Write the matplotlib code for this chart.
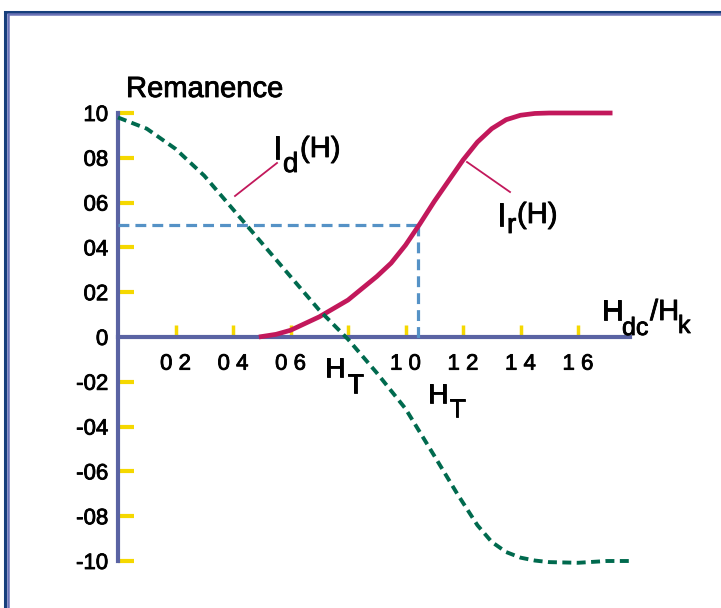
import matplotlib
matplotlib.use('Agg')
import matplotlib.pyplot as plt
import matplotlib.patheffects as pe
from matplotlib.lines import Line2D

plt.rcParams['font.family'] = ['Liberation Sans', 'DejaVu Sans']

# ---------------- data ----------------
h_d = [0.0, 0.1, 0.2, 0.3, 0.4, 0.5, 0.6, 0.7, 0.8, 0.9, 1.0, 1.1, 1.18,
       1.25, 1.3, 1.35, 1.4, 1.45, 1.5, 1.6, 1.7, 1.79]
id_vals = [0.98, 0.93, 0.84, 0.72, 0.57, 0.42, 0.27, 0.12, -0.01, -0.16,
           -0.32, -0.53, -0.70, -0.84, -0.915, -0.96, -0.985, -0.998,
           -1.005, -1.008, -1.0, -1.0]

h_r = [0.49, 0.55, 0.6, 0.7, 0.8, 0.9, 0.95, 1.0, 1.05, 1.1, 1.2, 1.25,
       1.3, 1.35, 1.4, 1.45, 1.5, 1.6, 1.72]
ir_vals = [0.0, 0.012, 0.03, 0.09, 0.165, 0.27, 0.33, 0.41, 0.505, 0.605,
           0.79, 0.87, 0.93, 0.97, 0.99, 0.998, 1.0, 1.0, 1.0]

level_half = 0.5
h_half = 1.045

y_ticks = [1.0, 0.8, 0.6, 0.4, 0.2, 0.0, -0.2, -0.4, -0.6, -0.8, -1.0]
y_tick_labels = ["10", "08", "06", "04", "02", "0", "-02", "-04", "-06",
                 "-08", "-10"]
x_ticks = [0.2, 0.4, 0.6, 0.8, 1.0, 1.2, 1.4, 1.6]
x_tick_labels = ["0 2", "0 4", "0 6", "", "1 0", "1 2", "1 4", "1 6"]

# ---------------- layout ----------------
W, H = 721, 608
X0, Y0 = 118, 337      # pixel position of the data origin
SX, SY = 287.5, 224    # pixels per data unit
thick = [pe.withStroke(linewidth=0.6, foreground='black')]


def fx(x):
    return x / W


def fy(y):
    return 1 - y / H


fig = plt.figure(figsize=(W / 100, H / 100), dpi=100)
fig.patch.set_facecolor('white')
ax = fig.add_axes([0, 0, 1, 1])
ax.set_xlim((0 - X0) / SX, (W - X0) / SX)
ax.set_ylim((Y0 - H) / SY, Y0 / SY)
ax.patch.set_visible(False)

for s in ['top', 'right']:
    ax.spines[s].set_visible(False)
ax.spines['left'].set_position(('data', 0))
ax.spines['bottom'].set_position(('data', 0))
ax.spines['left'].set_bounds(-1.0, 1.0)
ax.spines['bottom'].set_bounds(0, 1.78)
for s in ['left', 'bottom']:
    ax.spines[s].set_color('#5a63a3')
    ax.spines[s].set_linewidth(3)
    ax.spines[s].set_zorder(2.6)

ax.set_yticks(y_ticks, y_tick_labels)
ax.set_xticks(x_ticks, x_tick_labels)
ax.tick_params(axis='y', direction='in', length=11.5, width=3,
               color='#f5d800', pad=7, labelsize=16)
ax.tick_params(axis='x', direction='in', length=9, width=2.5,
               color='#f5d800', pad=12, labelsize=16)
for t, v in zip(ax.yaxis.get_major_ticks(), y_ticks):
    if v == 0:
        t.tick1line.set_visible(False)
for lab in ax.get_xticklabels() + ax.get_yticklabels():
    lab.set_path_effects(thick)

# guide lines
blue = '#5592c6'
ax.plot([0, h_half], [level_half, level_half], color=blue, lw=2.3,
        ls=(0, (3.4, 1.9)), zorder=3)
ax.plot([h_half, h_half], [level_half, -0.015], color=blue, lw=2.3,
        ls=(0, (3.4, 1.9)), zorder=3)

# curves
ax.plot(h_r, ir_vals, color='#c2185b', lw=3.4, solid_capstyle='butt',
        solid_joinstyle='round', zorder=4)
ax.plot(h_d, id_vals, color='#006a4e', lw=2.8, ls=(0, (2.3, 1.4)),
        zorder=5)

# ---------------- frame ----------------
fig.add_artist(Line2D([fx(5), fx(5), fx(W + 5)],
                      [fy(H + 5), fy(11.5), fy(11.5)],
                      color='#163f7c', lw=2.2, solid_joinstyle='miter'))
fig.add_artist(Line2D([fx(7.5), fx(7.5), fx(W + 5)],
                      [fy(H + 5), fy(14), fy(14)],
                      color='#6a72b6', lw=1.8, solid_joinstyle='miter'))


# ---------------- texts ----------------
def put(x, y, s, size):
    fig.text(fx(x), fy(y), s, fontsize=size, ha='left', va='baseline',
             color='black', path_effects=thick)


put(126, 97, "Remanence", 21)

put(325, 377, "H", 20)
put(347, 393, "T", 20)
put(428, 403, "H", 20)
put(449, 417, "T", 19)

put(602, 320, "H", 21)
put(622, 335, "dc", 18)
put(650, 320, "/H", 21)
put(678, 333, "k", 18)

put(273, 159, "I", 24)
put(283, 172, "d", 20)
put(300, 157, "(H)", 21)

put(497, 226, "I", 24)
put(507, 233, "r", 20)
put(517, 223, "(H)", 21)

# pointer lines
fig.add_artist(Line2D([fx(235), fx(277)], [fy(196), fy(163)],
                      color='#c2185b', lw=1.3))
fig.add_artist(Line2D([fx(467), fx(510)], [fy(162), fy(192)],
                      color='#c2185b', lw=1.3))

fig.savefig('out.png', dpi=100)
